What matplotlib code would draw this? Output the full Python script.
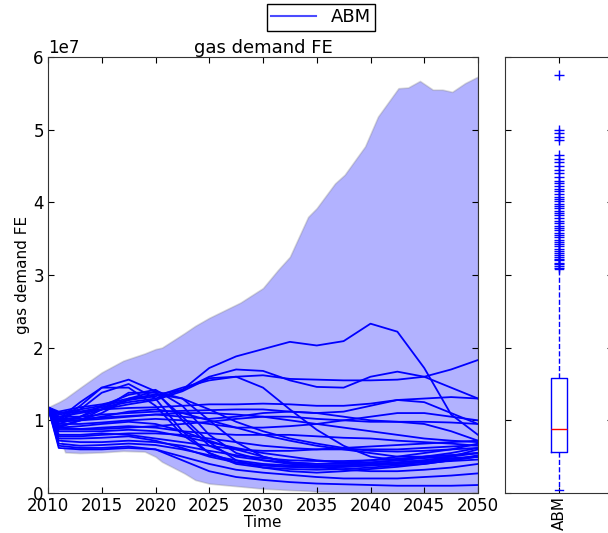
import numpy as np
import matplotlib
matplotlib.use("Agg")
import matplotlib.pyplot as plt

# --- data (units of 1e7) ---
scale = 1e7
env_years = [2010, 2011, 2011.6, 2013, 2015, 2017, 2019, 2020, 2020.6, 2022.7, 2023.7, 2025,
             2027.9, 2030, 2031.4, 2032.5, 2034.2, 2035, 2036.7, 2037.6, 2039.5, 2040.7, 2042.6,
             2043.5, 2044.6, 2045.8, 2046.7, 2047.6, 2048.8, 2050]
env_upper = [1.18, 1.25, 1.3, 1.45, 1.66, 1.82, 1.92, 1.98, 2.0, 2.2, 2.3, 2.41,
             2.62, 2.82, 3.07, 3.25, 3.80, 3.92, 4.26, 4.38, 4.77, 5.18, 5.57,
             5.58, 5.67, 5.55, 5.55, 5.52, 5.64, 5.73]
env_lower = [1.18, 0.8, 0.56, 0.55, 0.56, 0.58, 0.57, 0.5, 0.43, 0.27, 0.18, 0.13,
             0.09, 0.06, 0.05, 0.04, 0.03, 0.02, 0.01, 0.01, 0.01, 0.01, 0.01,
             0.01, 0.01, 0.01, 0.01, 0.01, 0.01, 0.01]

years = [2010, 2011, 2013, 2015, 2017.5, 2020, 2022.5, 2025, 2027.5, 2030,
         2032.5, 2035, 2037.5, 2040, 2042.5, 2045, 2047.5, 2050]
runs = [
    [1.18, 1.12, 1.18, 1.22, 1.30, 1.35, 1.42, 1.72, 1.88, 1.98, 2.08, 2.03, 2.09, 2.33, 2.22, 1.72, 1.08, 0.80],
    [1.18, 1.10, 1.15, 1.20, 1.28, 1.33, 1.45, 1.55, 1.60, 1.62, 1.57, 1.56, 1.55, 1.55, 1.56, 1.60, 1.70, 1.83],
    [1.18, 1.08, 1.12, 1.18, 1.25, 1.30, 1.42, 1.60, 1.70, 1.68, 1.55, 1.46, 1.45, 1.60, 1.67, 1.60, 1.45, 1.30],
    [1.18, 1.05, 1.10, 1.15, 1.22, 1.28, 1.40, 1.58, 1.60, 1.45, 1.15, 0.87, 0.65, 0.50, 0.45, 0.42, 0.45, 0.50],
    [1.18, 1.00, 1.20, 1.45, 1.56, 1.40, 1.00, 0.65, 0.50, 0.45, 0.42, 0.40, 0.40, 0.42, 0.45, 0.48, 0.50, 0.55],
    [1.18, 0.98, 1.15, 1.38, 1.50, 1.30, 0.85, 0.55, 0.40, 0.35, 0.33, 0.32, 0.33, 0.35, 0.38, 0.40, 0.45, 0.50],
    [1.18, 0.95, 1.05, 1.20, 1.35, 1.42, 1.20, 0.80, 0.55, 0.45, 0.40, 0.38, 0.38, 0.40, 0.42, 0.45, 0.50, 0.60],
    [1.18, 0.90, 1.00, 1.10, 1.30, 1.40, 1.30, 1.00, 0.70, 0.50, 0.42, 0.40, 0.42, 0.45, 0.50, 0.55, 0.60, 0.68],
    [1.18, 0.92, 1.00, 1.15, 1.38, 1.38, 1.05, 0.70, 0.45, 0.35, 0.30, 0.28, 0.30, 0.33, 0.36, 0.40, 0.45, 0.52],
    [1.18, 1.10, 1.12, 1.15, 1.17, 1.18, 1.20, 1.22, 1.22, 1.23, 1.22, 1.20, 1.20, 1.23, 1.28, 1.30, 1.32, 1.30],
    [1.18, 1.05, 1.05, 1.08, 1.10, 1.12, 1.13, 1.14, 1.15, 1.15, 1.12, 1.10, 1.12, 1.20, 1.28, 1.25, 1.10, 0.95],
    [1.18, 1.00, 1.00, 1.02, 1.05, 1.08, 1.10, 1.10, 1.08, 1.05, 1.00, 0.95, 0.90, 0.85, 0.80, 0.75, 0.72, 0.70],
    [1.18, 0.95, 0.95, 0.97, 1.00, 1.02, 1.00, 0.95, 0.90, 0.90, 0.92, 0.95, 1.00, 1.05, 1.10, 1.10, 1.05, 1.00],
    [1.18, 0.98, 1.00, 1.05, 1.12, 1.15, 1.10, 1.00, 0.90, 0.80, 0.72, 0.65, 0.60, 0.55, 0.50, 0.50, 0.52, 0.55],
    [1.18, 0.88, 0.88, 0.90, 0.92, 0.90, 0.85, 0.82, 0.80, 0.80, 0.80, 0.78, 0.76, 0.75, 0.72, 0.70, 0.68, 0.65],
    [1.18, 0.85, 0.85, 0.85, 0.87, 0.85, 0.78, 0.70, 0.62, 0.55, 0.50, 0.45, 0.42, 0.42, 0.45, 0.50, 0.55, 0.62],
    [1.18, 0.80, 0.80, 0.82, 0.80, 0.75, 0.70, 0.65, 0.60, 0.58, 0.58, 0.60, 0.62, 0.64, 0.66, 0.68, 0.70, 0.72],
    [1.18, 0.75, 0.75, 0.76, 0.78, 0.72, 0.62, 0.50, 0.42, 0.38, 0.36, 0.35, 0.36, 0.38, 0.40, 0.42, 0.44, 0.46],
    [1.18, 0.72, 0.70, 0.70, 0.72, 0.70, 0.65, 0.58, 0.52, 0.48, 0.45, 0.44, 0.44, 0.45, 0.47, 0.50, 0.52, 0.55],
    [1.18, 0.68, 0.65, 0.66, 0.68, 0.66, 0.60, 0.52, 0.45, 0.40, 0.38, 0.37, 0.38, 0.40, 0.42, 0.45, 0.48, 0.50],
    [1.18, 0.62, 0.60, 0.60, 0.62, 0.60, 0.50, 0.40, 0.32, 0.28, 0.25, 0.22, 0.20, 0.20, 0.20, 0.22, 0.24, 0.27],
    [1.18, 0.65, 0.62, 0.62, 0.64, 0.60, 0.45, 0.30, 0.22, 0.18, 0.15, 0.13, 0.12, 0.11, 0.10, 0.10, 0.10, 0.11],
    [1.18, 0.90, 0.92, 0.95, 0.98, 0.95, 0.85, 0.72, 0.60, 0.50, 0.42, 0.36, 0.32, 0.30, 0.30, 0.32, 0.35, 0.40],
    [1.18, 1.02, 1.25, 1.45, 1.45, 1.20, 0.80, 0.55, 0.42, 0.38, 0.36, 0.35, 0.36, 0.38, 0.40, 0.43, 0.47, 0.50],
    [1.18, 1.00, 1.05, 1.15, 1.28, 1.36, 1.30, 1.15, 0.98, 0.85, 0.75, 0.68, 0.62, 0.58, 0.57, 0.58, 0.60, 0.62],
    [1.18, 1.02, 1.02, 1.04, 1.06, 1.08, 1.05, 1.02, 1.05, 1.10, 1.12, 1.10, 1.05, 1.00, 0.98, 0.95, 0.85, 0.72],
    [1.18, 0.90, 0.88, 0.88, 0.90, 0.92, 0.95, 0.98, 1.02, 1.05, 1.05, 1.02, 1.00, 0.98, 0.98, 0.98, 0.97, 0.95],
    [1.18, 0.78, 0.78, 0.80, 0.82, 0.82, 0.80, 0.75, 0.70, 0.65, 0.62, 0.60, 0.60, 0.60, 0.60, 0.62, 0.64, 0.66],
]

# boxplot of end states
box_label = "ABM"
box_med, box_q1, box_q3 = 0.88, 0.57, 1.58
box_whislo, box_whishi = 0.04, 3.08
box_fliers = [3.10, 3.13, 3.15, 3.17, 3.20, 3.22, 3.25, 3.28, 3.30, 3.33, 3.36, 3.40,
              3.42, 3.45, 3.48, 3.52, 3.55, 3.58, 3.62, 3.65, 3.68, 3.72, 3.75, 3.78,
              3.82, 3.85, 3.88, 3.92, 3.95, 3.98, 4.02, 4.05, 4.08, 4.12, 4.15, 4.18,
              4.22, 4.26, 4.30, 4.35, 4.40, 4.45, 4.50, 4.55, 4.60, 4.65,
              4.86, 4.90, 4.95, 5.00, 5.75]

# --- plot ---
plt.rcParams['font.family'] = 'DejaVu Sans'
plt.rcParams['font.size'] = 12
plt.rcParams['xtick.direction'] = 'in'
plt.rcParams['ytick.direction'] = 'in'
plt.rcParams['xtick.major.size'] = 4
plt.rcParams['ytick.major.size'] = 4
plt.rcParams['xtick.major.pad'] = 3
plt.rcParams['ytick.major.pad'] = 3

fig = plt.figure(figsize=(6.08, 5.33), dpi=100, facecolor='white')
ax = fig.add_axes([48/608, 40/533, 430/608, 436/533])
ax2 = fig.add_axes([505/608, 40/533, 108/608, 436/533], sharey=ax)

ax.fill_between(env_years, np.array(env_lower) * scale, np.array(env_upper) * scale,
                facecolor='blue', alpha=0.3, edgecolor='grey', linewidth=1.2)
for r in runs:
    ax.plot(years, np.array(r) * scale, color='blue', linewidth=1.3)

ax.set_xlim(2010, 2050)
ax.set_ylim(0, 6e7)
ax.set_xticks([2010, 2015, 2020, 2025, 2030, 2035, 2040, 2045, 2050])
ax.set_yticks([0, 1e7, 2e7, 3e7, 4e7, 5e7, 6e7])
ax.tick_params(top=True, right=True)
ax.set_title("gas demand FE", fontsize=13, pad=3)
ax.set_ylabel("gas demand FE", fontsize=11, labelpad=2)
ax.set_xlabel("Time", fontsize=11, labelpad=0)

stats = [dict(label=box_label, med=box_med * scale, q1=box_q1 * scale, q3=box_q3 * scale,
              whislo=box_whislo * scale, whishi=box_whishi * scale,
              fliers=np.array(box_fliers) * scale)]
ax2.bxp(stats, widths=0.15,
        boxprops=dict(color='blue'),
        medianprops=dict(color='red'),
        whiskerprops=dict(color='blue', linestyle='--'),
        capprops=dict(color='blue'),
        flierprops=dict(marker='+', markeredgecolor='blue', markersize=7, linestyle='none'))
ax2.set_xlim(0.5, 1.5)
ax2.tick_params(top=True, right=True, labelleft=False)
ax2.tick_params(axis='x', pad=2, labelsize=11)
plt.setp(ax2.get_xticklabels(), rotation=90)

for a in (ax, ax2):
    for s in a.spines.values():
        s.set_color('#333333')

handle, = ax.plot([], [], color='blue', alpha=0.7, linewidth=1.5)
fig.legend([handle], [box_label], loc='upper center', bbox_to_anchor=(0.528, 0.993),
           borderaxespad=0, fancybox=False, edgecolor='black', framealpha=1, fontsize=13,
           handlelength=2.5, borderpad=0.25)

fig.savefig("out.png", dpi=100, facecolor='white')
